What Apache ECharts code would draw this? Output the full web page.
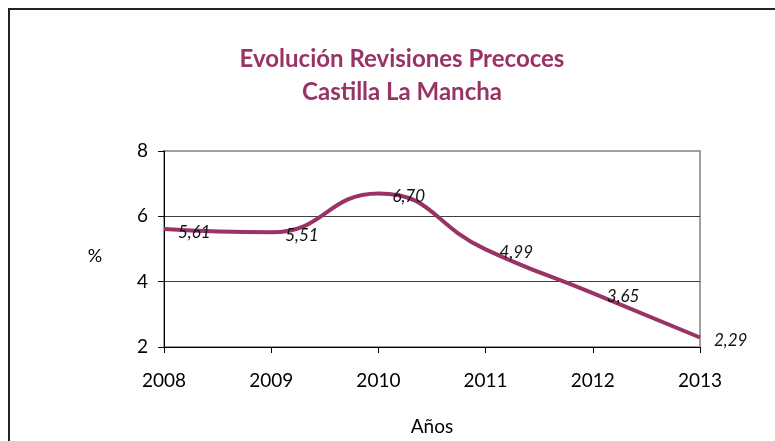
<!DOCTYPE html>
<html>
<head>
<meta charset="utf-8">
<script src="https://cdn.jsdelivr.net/npm/echarts@6/dist/echarts.min.js"></script>
<style>
    html, body { margin: 0; padding: 0; background: #fff; }
    #chart { width: 775px; height: 441px; }
</style>
</head>
<body>
<div id="chart"></div>
<script>
// values
const years = ['2008', '2009', '2010', '2011', '2012', '2013'];
const revisiones = [5.61, 5.51, 6.70, 4.99, 3.65, 2.29];
const yTicks = [2, 4, 6, 8];

const plum = '#993366';
const font = 'Lato, "Open Sans", sans-serif';

var myChart = echarts.init(document.getElementById('chart'));

myChart.setOption({
    animation: false,
    title: {
        text: 'Evolución Revisiones Precoces\nCastilla La Mancha',
        left: 397,
        top: 38,
        textAlign: 'center',
        textStyle: {
            color: plum,
            fontFamily: font,
            fontWeight: 'bold',
            fontSize: 24,
            lineHeight: 33
        }
    },
    graphic: [
        {
            type: 'rect',
            shape: { x: 9, y: 9, width: 820, height: 480 },
            style: { fill: 'none', stroke: '#222', lineWidth: 2 },
            silent: true
        },
        {
            // y axis title
            type: 'text',
            x: 95,
            y: 256,
            style: {
                text: '%',
                fill: '#000',
                font: '18px ' + font,
                align: 'center',
                verticalAlign: 'middle'
            },
            silent: true
        }
    ],
    grid: {
        left: 164,
        top: 151,
        width: 536,
        height: 196,
        show: true,
        borderColor: '#a0a0a0',
        borderWidth: 2
    },
    xAxis: {
        type: 'category',
        data: years,
        boundaryGap: false,
        name: 'Años',
        nameLocation: 'middle',
        nameGap: 70,
        nameTextStyle: { color: '#000', fontFamily: font, fontSize: 19 },
        axisLine: { lineStyle: { color: '#000', width: 1 } },
        axisTick: { show: true, length: 6, lineStyle: { color: '#000' } },
        axisLabel: { color: '#000', fontFamily: font, fontSize: 19, margin: 24 },
        splitLine: { show: false }
    },
    yAxis: {
        type: 'value',
        min: yTicks[0],
        max: yTicks[yTicks.length - 1],
        interval: 2,
        axisLine: { show: true, lineStyle: { color: '#000', width: 1 } },
        axisTick: { show: true, length: 6, lineStyle: { color: '#000' } },
        axisLabel: { color: '#000', fontFamily: font, fontSize: 19, margin: 16 },
        splitLine: {
            show: true,
            lineStyle: { color: ['#000', '#404040', '#404040', '#a0a0a0'], width: 1 }
        }
    },
    series: [
        {
            name: 'Revisiones precoces',
            type: 'line',
            data: revisiones,
            smooth: true,
            showSymbol: true,
            symbol: 'circle',
            symbolSize: 0,
            lineStyle: { color: plum, width: 4 },
            itemStyle: { color: plum },
            label: {
                show: true,
                position: 'right',
                distance: 14,
                offset: [0, 3],
                color: '#111',
                fontFamily: font,
                fontStyle: 'italic',
                fontSize: 17,
                formatter: p => p.value.toFixed(2).replace('.', ',')
            }
        }
    ]
});
</script>
</body>
</html>
